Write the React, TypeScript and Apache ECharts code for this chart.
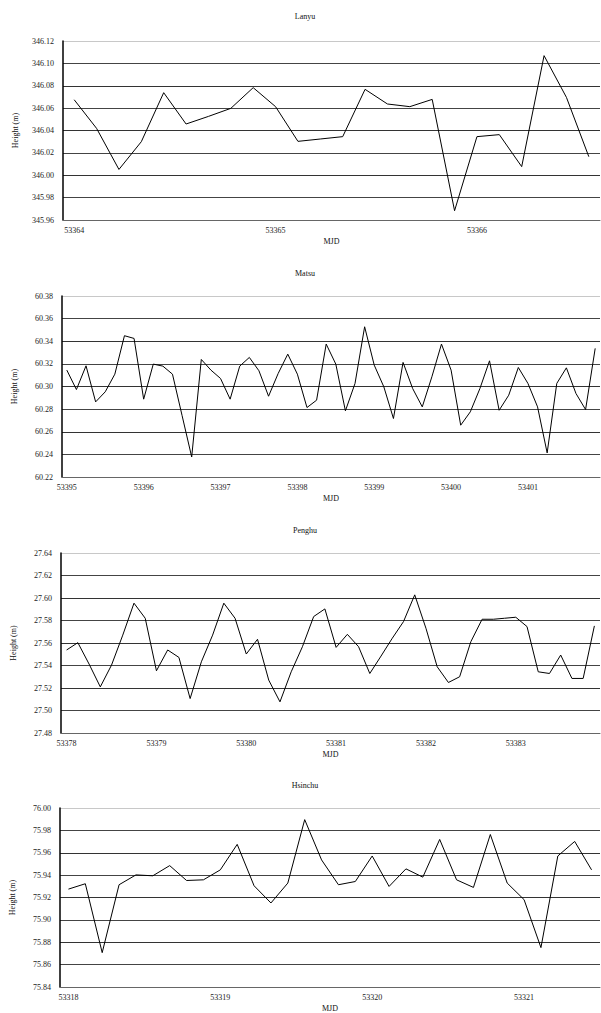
import React, { useEffect, useRef } from "react";
import * as echarts from "echarts";

const lanyuTicks = ["53364", "53365", "53366"];
const lanyuHeight = [
  346.0675, 346.0419, 346.0052, 346.03, 346.0738, 346.0458, 346.0526, 346.0598,
  346.0783, 346.0613, 346.0303, 346.0324, 346.0345, 346.0768, 346.0637, 346.0613,
  346.0678, 345.9683, 346.0345, 346.0363, 346.0077, 346.1069, 346.0696, 346.0166,
];

const matsuTicks = ["53395", "53396", "53397", "53398", "53399", "53400", "53401"];
const matsuHeight = [
  60.3145, 60.2973, 60.3183, 60.2864, 60.2953, 60.3109, 60.3449, 60.3425,
  60.2888, 60.3198, 60.318, 60.3109, 60.2743, 60.2377, 60.3239, 60.3145,
  60.3071, 60.2888, 60.318, 60.3257, 60.3139, 60.2914, 60.3115, 60.3286,
  60.3109, 60.2814, 60.2879, 60.3375, 60.3198, 60.2785, 60.3027, 60.3528,
  60.3189, 60.2997, 60.2717, 60.3213, 60.2982, 60.282, 60.3086, 60.3375,
  60.3145, 60.2658, 60.2776, 60.2982, 60.3227, 60.279, 60.2923, 60.3168,
  60.3027, 60.282, 60.2413, 60.3027, 60.3165, 60.2938, 60.2796, 60.3337,
];

const penghuTicks = ["53378", "53379", "53380", "53381", "53382", "53383"];
const penghuHeight = [
  27.5538, 27.5603, 27.5413, 27.521, 27.5404, 27.567, 27.5954, 27.582,
  27.5353, 27.5538, 27.5472, 27.5106, 27.5433, 27.567, 27.5954, 27.582,
  27.5502, 27.5633, 27.527, 27.5077, 27.5344, 27.5567, 27.5835, 27.5903,
  27.5561, 27.5677, 27.5567, 27.5329, 27.5484, 27.5642, 27.579, 27.6028,
  27.5731, 27.5389, 27.5249, 27.53, 27.5612, 27.5811, 27.5811, 27.582,
  27.5829, 27.5746, 27.5344, 27.5329, 27.5493, 27.5285, 27.5285, 27.5752,
];

const hsinchuTicks = ["53318", "53319", "53320", "53321"];
const hsinchuHeight = [
  75.9275, 75.9323, 75.8707, 75.9314, 75.9402, 75.9394, 75.9485, 75.9352,
  75.9358, 75.9447, 75.9675, 75.9305, 75.9151, 75.9329, 75.9896, 75.9536,
  75.9314, 75.9343, 75.9571, 75.9299, 75.9456, 75.9382, 75.9719, 75.9358,
  75.929, 75.9763, 75.9329, 75.9181, 75.8752, 75.9571, 75.9701, 75.9447,
];

const stationNames = ["Lanyu", "Matsu", "Penghu", "Hsinchu"];
const yMins = [345.96, 60.22, 27.48, 75.84];
const yMaxs = [346.12, 60.38, 27.64, 76.0];
const yStep = 0.02;
const labelEvery = [9, 8, 8, 9];

const FONT = "Liberation Serif";

export default function App() {
  const ref = useRef<HTMLDivElement>(null);
  useEffect(() => {
    if (!ref.current) return;
    const chart = echarts.init(ref.current, undefined, { renderer: "svg" });
    const ticksAll = [lanyuTicks, matsuTicks, penghuTicks, hsinchuTicks];
    const heightsAll = [lanyuHeight, matsuHeight, penghuHeight, hsinchuHeight];
    const grids = [
      { left: 63, top: 41, width: 537, height: 179 },
      { left: 62, top: 296, width: 538, height: 181 },
      { left: 61, top: 553, width: 539, height: 180 },
      { left: 60, top: 808, width: 540, height: 180 },
    ];
    const titleY = [16, 273, 530, 785];
    const splitColors = ["#888", "#444", "#333", "#444", "#333", "#444", "#333", "#444", "#c8c8c8"];

    const option: any = {
      animation: false,
      backgroundColor: "#fff",
      grid: grids.map((g) => ({ ...g, containLabel: false })),
      graphic: stationNames.map((n, i) => ({
        type: "text",
        x: 305,
        y: titleY[i],
        style: {
          text: n,
          font: `8px "${FONT}"`,
          fill: "#111",
          textAlign: "center",
          textVerticalAlign: "middle",
        },
      })),
      xAxis: heightsAll.map((h, i) => ({
        type: "category",
        gridIndex: i,
        boundaryGap: true,
        data: h.map((_, k) => (k % labelEvery[i] === 0 ? ticksAll[i][k / labelEvery[i]] ?? "" : "")),
        name: "MJD",
        nameLocation: "middle",
        nameGap: 17,
        nameTextStyle: { fontFamily: FONT, fontSize: 8, color: "#111" },
        axisLine: { show: true, lineStyle: { color: "#666", width: 1 } },
        axisTick: { show: false },
        axisLabel: {
          interval: 0,
          margin: 6,
          fontFamily: FONT,
          fontSize: 8,
          color: "#222",
        },
        splitLine: { show: false },
      })),
      yAxis: heightsAll.map((_, i) => ({
        type: "value",
        gridIndex: i,
        min: yMins[i],
        max: yMaxs[i],
        interval: yStep,
        name: "Height (m)",
        nameLocation: "middle",
        nameGap: 44,
        nameTextStyle: { fontFamily: FONT, fontSize: 8, color: "#111" },
        axisLine: { show: true, lineStyle: { color: "#000", width: 1.5 } },
        axisTick: { show: false },
        axisLabel: {
          margin: 9,
          fontFamily: FONT,
          fontSize: 8,
          color: "#222",
          formatter: (v: number) => v.toFixed(2),
        },
        splitLine: { show: true, lineStyle: { color: splitColors, width: 1 } },
      })),
      series: heightsAll.map((h, i) => ({
        type: "line",
        xAxisIndex: i,
        yAxisIndex: i,
        data: h,
        symbol: "none",
        lineStyle: { color: "#000", width: 1 },
      })),
    };
    chart.setOption(option);
    return () => chart.dispose();
  }, []);
  return (
    <div
      ref={ref}
      style={{ position: "absolute", left: 0, top: 0, width: 601, height: 1013 }}
    />
  );
}
